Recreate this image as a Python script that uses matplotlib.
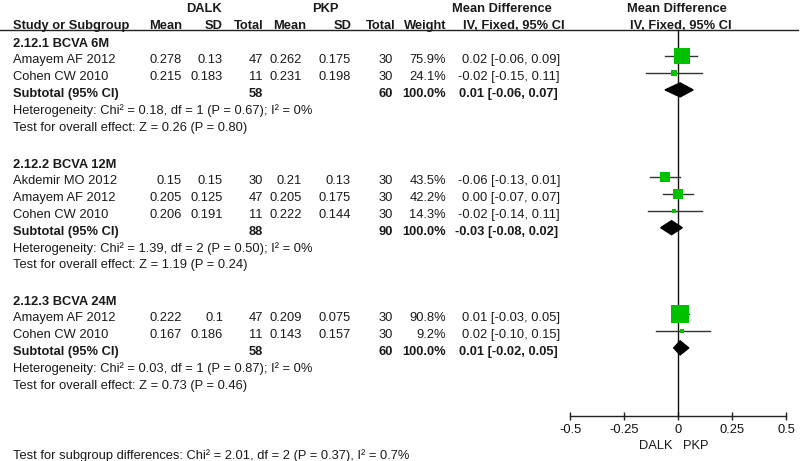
import matplotlib
matplotlib.use("Agg")
import matplotlib.pyplot as plt

plt.rcParams['font.family'] = ['Liberation Sans', 'DejaVu Sans']

# ---------------- data ----------------
group_titles = ["2.12.1 BCVA 6M", "2.12.2 BCVA 12M", "2.12.3 BCVA 24M"]

studies = [["Amayem AF 2012", "Cohen CW 2010"],
           ["Akdemir MO 2012", "Amayem AF 2012", "Cohen CW 2010"],
           ["Amayem AF 2012", "Cohen CW 2010"]]
dalk_mean = [[0.278, 0.215], [0.15, 0.205, 0.206], [0.222, 0.167]]
dalk_sd = [[0.13, 0.183], [0.15, 0.125, 0.191], [0.1, 0.186]]
dalk_n = [[47, 11], [30, 47, 11], [47, 11]]
pkp_mean = [[0.262, 0.231], [0.21, 0.205, 0.222], [0.209, 0.143]]
pkp_sd = [[0.175, 0.198], [0.13, 0.175, 0.144], [0.075, 0.157]]
pkp_n = [[30, 30], [30, 30, 30], [30, 30]]
weights = [[75.9, 24.1], [43.5, 42.2, 14.3], [90.8, 9.2]]
md = [[0.02, -0.02], [-0.06, 0.00, -0.02], [0.01, 0.02]]
ci_lo = [[-0.06, -0.15], [-0.13, -0.07, -0.14], [-0.03, -0.10]]
ci_hi = [[0.09, 0.11], [0.01, 0.07, 0.11], [0.05, 0.15]]

sub_dalk_n = [58, 88, 58]
sub_pkp_n = [60, 90, 60]
sub_md = [0.01, -0.03, 0.01]
sub_lo = [-0.06, -0.08, -0.02]
sub_hi = [0.07, 0.02, 0.05]
heterogeneity = ["Heterogeneity: Chi\u00b2 = 0.18, df = 1 (P = 0.67); I\u00b2 = 0%",
                 "Heterogeneity: Chi\u00b2 = 1.39, df = 2 (P = 0.50); I\u00b2 = 0%",
                 "Heterogeneity: Chi\u00b2 = 0.03, df = 1 (P = 0.87); I\u00b2 = 0%"]
overall = ["Test for overall effect: Z = 0.26 (P = 0.80)",
           "Test for overall effect: Z = 1.19 (P = 0.24)",
           "Test for overall effect: Z = 0.73 (P = 0.46)"]
subgroup_diff = "Test for subgroup differences: Chi\u00b2 = 2.01, df = 2 (P = 0.37), I\u00b2 = 0.7%"

xticks = [-0.5, -0.25, 0, 0.25, 0.5]
xticklabels = ["-0.5", "-0.25", "0", "0.25", "0.5"]
favours = ["DALK", "PKP"]

# ---------------- layout ----------------
W, H = 800, 461
fig = plt.figure(figsize=(W / 100, H / 100), dpi=100)
tax = fig.add_axes([0, 0, 1, 1])
tax.set_xlim(0, W)
tax.set_ylim(H, 0)
tax.axis('off')

AX_L, AX_R, AX_Y = 570, 786, 416
fax = fig.add_axes([AX_L / W, (H - AX_Y) / H, (AX_R - AX_L) / W, AX_Y / H])
fax.set_xlim(-0.5, 0.5)
fax.set_ylim(AX_Y, 0)
fax.patch.set_visible(False)
for s in ['top', 'left', 'right']:
    fax.spines[s].set_visible(False)
fax.spines['bottom'].set_color('#222222')
fax.spines['bottom'].set_linewidth(1.0)
fax.set_yticks([])
fax.set_xticks(xticks)
fax.set_xticklabels(xticklabels)
fax.tick_params(axis='x', direction='inout', length=6, width=1.0,
                color='#222222', labelsize=9.3, pad=3, labelcolor='#111111')

FS = 9.3
TC = '#1a1a1a'
CAP = 4.6


def txt(x, y, s, ha='left', bold=False):
    tax.text(x, y + CAP, s, ha=ha, va='baseline', fontsize=FS, color=TC,
             fontweight='bold' if bold else 'normal')


# header
txt(204, 7, "DALK", ha='center', bold=True)
txt(325, 7, "PKP", ha='center', bold=True)
txt(502, 7, "Mean Difference", ha='center', bold=True)
txt(677, 7, "Mean Difference", ha='center', bold=True)
hy = 24
txt(13, hy, "Study or Subgroup", bold=True)
txt(182, hy, "Mean", ha='right', bold=True)
txt(223, hy, "SD", ha='right', bold=True)
txt(263, hy, "Total", ha='right', bold=True)
txt(306, hy, "Mean", ha='right', bold=True)
txt(352, hy, "SD", ha='right', bold=True)
txt(395, hy, "Total", ha='right', bold=True)
txt(446, hy, "Weight", ha='right', bold=True)
txt(514, hy, "IV, Fixed, 95% CI", ha='center', bold=True)
txt(681, hy, "IV, Fixed, 95% CI", ha='center', bold=True)
tax.plot([0, 798], [30, 30], color='#222222', lw=1.0)

# zero line
fax.plot([0, 0], [30, AX_Y], color='#111111', lw=1.0, clip_on=False)

group_start = [42, 163, 300]
PITCH = 16.8
MOFF = -2.5
green = '#00C000'

for g in range(len(group_titles)):
    y0 = group_start[g]
    txt(13, y0, group_titles[g], bold=True)
    for i, name in enumerate(studies[g]):
        y = y0 + PITCH * (i + 1)
        txt(13, y, name)
        txt(182, y, f"{dalk_mean[g][i]:g}", ha='right')
        txt(223, y, f"{dalk_sd[g][i]:g}", ha='right')
        txt(263, y, f"{dalk_n[g][i]}", ha='right')
        txt(302, y, f"{pkp_mean[g][i]:g}", ha='right')
        txt(351, y, f"{pkp_sd[g][i]:g}", ha='right')
        txt(393, y, f"{pkp_n[g][i]}", ha='right')
        txt(446, y, f"{weights[g][i]:.1f}%", ha='right')
        txt(560, y, f"{md[g][i]:.2f} [{ci_lo[g][i]:.2f}, {ci_hi[g][i]:.2f}]", ha='right')
        ym = y + MOFF
        fax.plot([ci_lo[g][i], ci_hi[g][i]], [ym, ym], color='#333333', lw=1.0,
                 clip_on=False, zorder=2)
        side = 2 + 0.18 * weights[g][i]
        fax.plot([md[g][i]], [ym], marker='s', linestyle='none',
                 markersize=side * 0.72, color=green, markeredgewidth=0,
                 clip_on=False, zorder=3)
    k = len(studies[g]) + 1
    y = y0 + PITCH * k
    txt(13, y, "Subtotal (95% CI)", bold=True)
    txt(263, y, f"{sub_dalk_n[g]}", ha='right', bold=True)
    txt(393, y, f"{sub_pkp_n[g]}", ha='right', bold=True)
    txt(446, y, "100.0%", ha='right', bold=True)
    txt(558, y, f"{sub_md[g]:.2f} [{sub_lo[g]:.2f}, {sub_hi[g]:.2f}]", ha='right', bold=True)
    ym = y + MOFF
    fax.fill([sub_lo[g], sub_md[g], sub_hi[g], sub_md[g]],
             [ym, ym - 7, ym, ym + 7], color='black', zorder=3, clip_on=False)
    txt(13, y + PITCH, heterogeneity[g])
    txt(13, y + 2 * PITCH, overall[g])

txt(13, 454, subgroup_diff)
txt(656, 444, favours[0], ha='center')
txt(696, 444, favours[1], ha='center')

fig.savefig("out.png", dpi=100)
